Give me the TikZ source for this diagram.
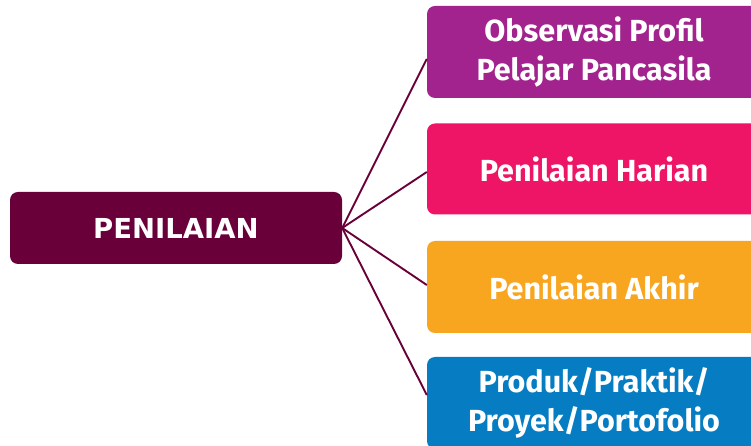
\documentclass[tikz,border=0pt]{standalone}
\usepackage{fontspec}
\setmainfont{Fira Sans}
\newfontfamily\mainboxfont{DejaVu Sans}
\usetikzlibrary{calc}
\definecolor{maroon}{HTML}{690039}
\definecolor{cpurple}{HTML}{A2238D}
\definecolor{cpink}{HTML}{EE1566}
\definecolor{corange}{HTML}{F8A51F}
\definecolor{cblue}{HTML}{067CC2}
\tikzset{
  rootbox/.style={fill=maroon, rounded corners=8pt, minimum width=332pt, minimum height=72pt,
    text=white, font=\mainboxfont\bfseries\fontsize{27.5}{30}\selectfont, inner sep=0pt},
  leafbox/.style={rounded corners=8pt, minimum width=334pt, minimum height=92pt,
    text=white, font=\bfseries\fontsize{30.5}{39}\selectfont, align=center, inner sep=0pt},
  link/.style={draw=maroon, line width=1.9pt}
}
\begin{document}
\begin{tikzpicture}[x=1pt,y=1pt]
\clip (0,0) rectangle (751,446);
\fill[white] (0,0) rectangle (751,446);
\node[rootbox] (root) at (176,218) {PENILAIAN};
\node[leafbox, fill=cpurple] (b1) at (594,394) {Observasi Profil\\Pelajar Pancasila};
\node[leafbox, fill=cpink, minimum height=91pt] (b2) at (594,277) {Penilaian Harian};
\node[leafbox, fill=corange] (b3) at (594,159) {Penilaian Akhir};
\node[leafbox, fill=cblue] (b4) at (594,43) {Produk/Praktik/\\Proyek/Portofolio};
\draw[link] (root.east) -- ($(b1.west)+(0,-7)$);
\draw[link] (root.east) -- ($(b2.west)+(0,-3)$);
\draw[link] (root.east) -- ($(b3.west)+(0,2)$);
\draw[link] (root.east) -- ($(b4.west)+(0,8)$);
\end{tikzpicture}
\end{document}
